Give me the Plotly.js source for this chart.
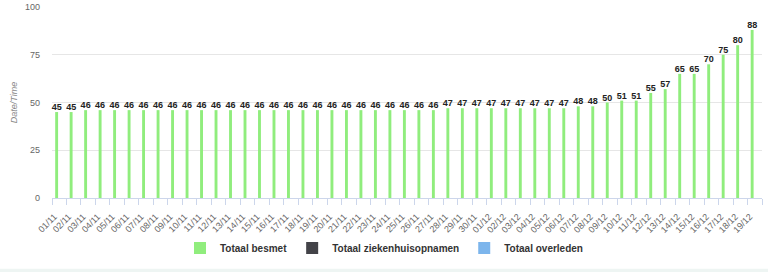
<!DOCTYPE html>
<html>
<head>
<meta charset="utf-8">
<script src="https://cdn.plot.ly/plotly-3.0.1.min.js"></script>
<style>html,body{margin:0;padding:0;background:#fff;}#chart{width:768px;height:272px;}</style>
</head>
<body>
<div id="chart"></div>
<script>
const categories = [
  "01/11","02/11","03/11","04/11","05/11","06/11","07/11","08/11","09/11","10/11",
  "11/11","12/11","13/11","14/11","15/11","16/11","17/11","18/11","19/11","20/11",
  "21/11","22/11","23/11","24/11","25/11","26/11","27/11","28/11","29/11","30/11",
  "01/12","02/12","03/12","04/12","05/12","06/12","07/12","08/12","09/12","10/12",
  "11/12","12/12","13/12","14/12","15/12","16/12","17/12","18/12","19/12"
];
const totaalBesmet = [
  45,45,46,46,46,46,46,46,46,46,
  46,46,46,46,46,46,46,46,46,46,
  46,46,46,46,46,46,46,47,47,47,
  47,47,47,47,47,47,48,48,50,51,
  51,55,57,65,65,70,75,80,88
];
const totaalZiekenhuis = categories.map(() => null);
const totaalOverleden = categories.map(() => null);
const yTicks = [0,25,50,75,100];

const fontFam = "Liberation Sans, Arial, sans-serif";

const traces = [
  {
    type: "bar", name: "Totaal besmet", x: categories, y: totaalBesmet,
    marker: {color: "#90ed7d"}, width: 0.2, offset: -0.28,
    text: totaalBesmet.map(String), textposition: "outside", cliponaxis: false,
    constraintext: "none",
    textfont: {family: fontFam, size: 9, color: "#222", weight: "bold"},
    outsidetextfont: {family: fontFam, size: 9, color: "#222", weight: "bold"},
    hoverinfo: "x+y"
  },
  {
    type: "bar", name: "Totaal ziekenhuisopnamen", x: categories, y: totaalZiekenhuis,
    marker: {color: "#434348"}
  },
  {
    type: "bar", name: "Totaal overleden", x: categories, y: totaalOverleden,
    marker: {color: "#7cb5ec"}
  }
];

const layout = {
  width: 768, height: 272,
  margin: {l: 52, r: 6, t: 7, b: 74, pad: 0},
  paper_bgcolor: "#fff", plot_bgcolor: "#fff",
  barmode: "overlay",
  showlegend: true,
  font: {family: fontFam, color: "#666"},
  xaxis: {
    type: "category",
    tickangle: -45,
    tickfont: {family: fontFam, size: 9, color: "#666"},
    showgrid: false,
    showline: true, linecolor: "#ccd6eb", linewidth: 1,
    ticks: "outside", ticklen: 6, tickcolor: "#ccd6eb", tickwidth: 1,
    tickson: "boundaries",
    ticklabelstandoff: 9,
    ticklabelshift: -5,
    zeroline: false,
    automargin: false
  },
  yaxis: {
    range: [0, 100],
    tickvals: yTicks,
    ticktext: yTicks.map(String),
    tickfont: {family: fontFam, size: 9, color: "#666"},
    showgrid: true, gridcolor: "#e6e6e6", gridwidth: 1,
    zeroline: false, showline: false,
    ticks: "", ticklabelstandoff: 11,
    automargin: false,
    title: {text: "Date/Time", font: {family: fontFam, size: 9, color: "#888", style: "italic"}, standoff: 5}
  },
  legend: {
    orientation: "h",
    xref: "container", yref: "container",
    x: 0.5, xanchor: "center",
    y: 0.088, yanchor: "middle",
    font: {family: fontFam, size: 10, color: "#333", weight: "bold"},
    itemclick: false, itemdoubleclick: false,
    traceorder: "normal"
  },
  shapes: [
    {type: "rect", xref: "paper", yref: "paper", x0: -0.1, x1: 1.1, y0: -0.37, y1: -0.45,
     fillcolor: "#eef5f3", line: {width: 0}, layer: "below"}
  ]
};

Plotly.newPlot("chart", traces, layout, {displayModeBar: false, staticPlot: true});
</script>
</body>
</html>
